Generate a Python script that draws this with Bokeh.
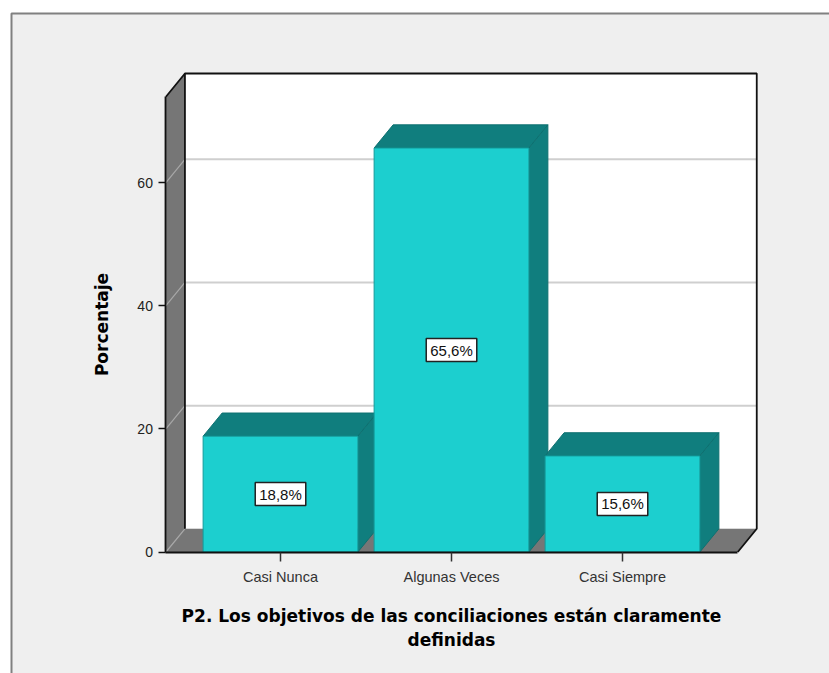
from bokeh.core.properties import value
from bokeh.embed import file_html
from bokeh.models import (BoxAnnotation, ColumnDataSource, FixedTicker,
                          LinearAxis, Range1d)
from bokeh.plotting import figure
from bokeh.resources import INLINE

categories = ["Casi Nunca", "Algunas Veces", "Casi Siempre"]
percentages = [18.8, 65.6, 15.6]
value_labels = ["18,8%", "65,6%", "15,6%"]
y_ticks = [0, 20, 40, 60]
x_title = "P2. Los objetivos de las conciliaciones están claramente\ndefinidas"
y_title = "Porcentaje"

# Scale of the drawing area: one category step and one percent, in pixels.
WIDTH, HEIGHT = 829, 673
PX_X, PX_Y = 171.0, 6.158
ORIGIN_X, ORIGIN_Y = 280.0, 551.5
positions = [1, 2, 3]

# Oblique projection used for the box: depth shift in data units.
DX, DY = 19 / PX_X, 23.2 / PX_Y
LEFT, RIGHT = 0.33, 3.674
TOP = 77.7
BAR_W = 0.905

BAR_FRONT, BAR_DARK = "#1ccfcf", "#107e7e"
WALL = "#767676"
GRID = "#cfcfcf"
INK = "#111111"

p = figure(
    width=WIDTH, height=HEIGHT, output_backend="svg", toolbar_location=None,
    x_range=Range1d(1 - ORIGIN_X / PX_X, 1 + (WIDTH - ORIGIN_X) / PX_X),
    y_range=Range1d(-(HEIGHT - ORIGIN_Y) / PX_Y, ORIGIN_Y / PX_Y),
    x_axis_type=None, y_axis_type=None,
    min_border=0, outline_line_color=None, background_fill_color="white",
)
p.xgrid.visible = False
p.ygrid.visible = False
p.border_fill_color = "white"

# Panel behind the chart, open towards the right and bottom edges of the page.
p.add_layout(BoxAnnotation(
    left=11, right=WIDTH + 10, top=HEIGHT - 13, bottom=-10,
    left_units="screen", right_units="screen", top_units="screen", bottom_units="screen",
    fill_color="#efefef", fill_alpha=1, line_color="#808080", line_alpha=1, line_width=2,
    level="underlay",
))

# Back wall, side wall and floor of the box.
p.patch([LEFT + DX, RIGHT + DX, RIGHT + DX, LEFT + DX], [DY, DY, TOP, TOP],
        fill_color="white", line_color=None)
p.patch([LEFT, LEFT + DX, LEFT + DX, LEFT], [0, DY, TOP, TOP - DY],
        fill_color=WALL, line_color=None)
p.patch([LEFT, LEFT + DX, RIGHT + DX, RIGHT], [0, DY, DY, 0],
        fill_color=WALL, line_color=None)

# Grid lines run along the back wall and fold down the side wall.
for v in y_ticks:
    p.line([LEFT, LEFT + DX], [v, v + DY], line_color="#a8a8a8", line_width=1.2)
    if v > 0:
        p.line([LEFT + DX, RIGHT + DX], [v + DY, v + DY], line_color=GRID, line_width=2)

# Outline of the box.
p.line([LEFT, LEFT + DX, RIGHT + DX, RIGHT + DX, RIGHT],
       [TOP - DY, TOP, TOP, DY, 0], line_color=INK, line_width=1.8)
p.line([LEFT + DX, LEFT + DX], [TOP, DY], line_color=INK, line_width=1.8)

# Bars, left to right so each one covers its neighbour's side face.
for x, v in zip(positions, percentages):
    x0, x1 = x - BAR_W / 2, x + BAR_W / 2
    p.patch([x0, x1, x1 + DX, x0 + DX], [v, v, v + DY, v + DY],
            fill_color=BAR_DARK, line_color="#0e7070", line_width=1)
    p.patch([x1, x1 + DX, x1 + DX, x1], [0, DY, v + DY, v],
            fill_color=BAR_DARK, line_color="#0e7070", line_width=1)
    p.patch([x0, x1, x1, x0], [0, 0, v, v],
            fill_color=BAR_FRONT, line_color="#149c9c", line_width=1)

# Value boxes centred on each bar's front face.
source = ColumnDataSource(dict(
    x=positions,
    y=[v / 2 for v in percentages],
    text=value_labels,
))
p.text(
    x="x", y="y", text="text", source=source,
    text_align="center", text_baseline="middle",
    text_font=value("Liberation Sans"), text_font_size="15px", text_color="#111111",
    background_fill_color="white", border_line_color="#222222", border_line_width=1.5,
    padding=(4, 3),
)

# Axes pinned to the front edges of the box.
y_axis = LinearAxis(
    fixed_location=LEFT, bounds=(0, TOP - DY), ticker=FixedTicker(ticks=y_ticks),
    axis_label=y_title, axis_label_text_font="DejaVu Sans",
    axis_label_text_font_style="bold", axis_label_text_font_size="17px",
    axis_label_text_color="black", axis_label_standoff=22,
    major_label_text_font="Liberation Sans", major_label_text_font_size="14px",
    major_label_text_color="#222222", major_label_standoff=6,
    major_tick_in=0, major_tick_out=7, minor_tick_line_color=None,
    axis_line_color=INK, axis_line_width=1.8, major_tick_line_color=INK, major_tick_line_width=1.5,
)
p.add_layout(y_axis, "left")

x_axis = LinearAxis(
    fixed_location=0, bounds=(LEFT, RIGHT), ticker=FixedTicker(ticks=positions),
    major_label_overrides=dict(zip(positions, categories)),
    axis_label=x_title, axis_label_text_font="DejaVu Sans",
    axis_label_text_font_style="bold", axis_label_text_font_size="17px",
    axis_label_text_color="black", axis_label_standoff=17,
    major_label_text_font="Liberation Sans", major_label_text_font_size="14.5px",
    major_label_text_color="#333333", major_label_standoff=8,
    major_tick_in=0, major_tick_out=9, minor_tick_line_color=None,
    axis_line_color=INK, axis_line_width=1.8, major_tick_line_color="#333333", major_tick_line_width=1.5,
)
p.add_layout(x_axis, "below")

open("out.html", "w").write(file_html(p, INLINE))
